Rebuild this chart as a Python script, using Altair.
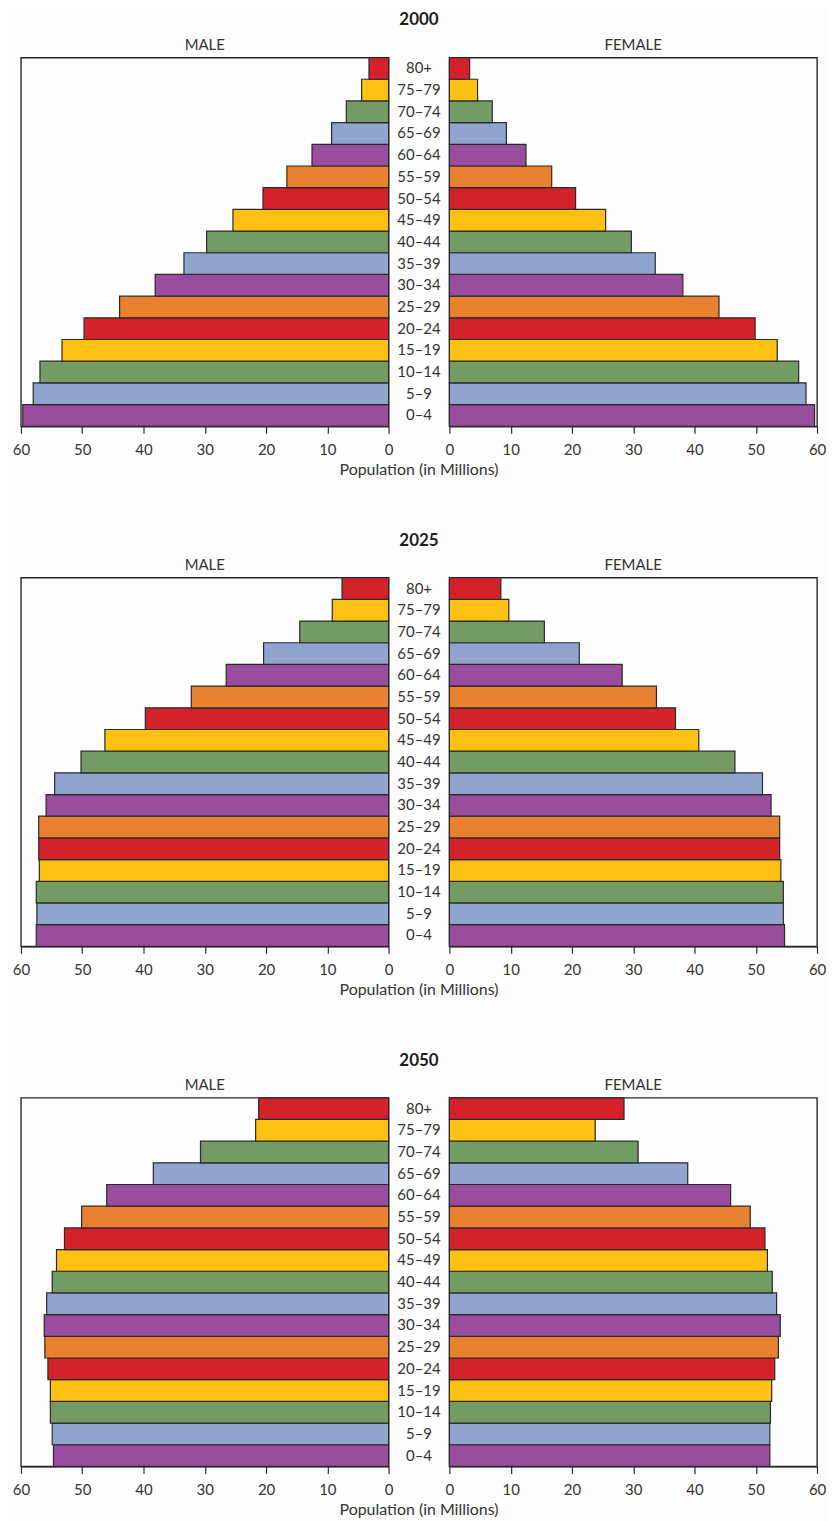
import altair as alt
import pandas as pd

# ---- data (bottom -> top age groups) ----
ages = ["0–4", "5–9", "10–14", "15–19", "20–24", "25–29", "30–34", "35–39",
        "40–44", "45–49", "50–54", "55–59", "60–64", "65–69", "70–74", "75–79", "80+"]
years = ["2000", "2025", "2050"]

male_2000 = [59.7, 58.0, 56.9, 53.3, 49.7, 43.9, 38.1, 33.4, 29.7, 25.4, 20.5, 16.6, 12.5, 9.3, 6.9, 4.4, 3.2]
female_2000 = [59.6, 58.2, 57.0, 53.5, 49.9, 44.0, 38.1, 33.6, 29.7, 25.5, 20.6, 16.7, 12.5, 9.3, 7.0, 4.6, 3.3]
male_2025 = [57.5, 57.4, 57.5, 57.0, 57.1, 57.1, 55.9, 54.5, 50.2, 46.3, 39.7, 32.2, 26.5, 20.4, 14.5, 9.2, 7.6]
female_2025 = [54.7, 54.5, 54.5, 54.1, 53.9, 53.9, 52.5, 51.1, 46.6, 40.7, 36.9, 33.8, 28.2, 21.2, 15.5, 9.7, 8.4]
male_2050 = [54.7, 54.9, 55.2, 55.2, 55.6, 56.1, 56.2, 55.8, 54.9, 54.2, 52.9, 50.1, 46.0, 38.4, 30.7, 21.7, 21.2]
female_2050 = [52.3, 52.3, 52.4, 52.6, 53.1, 53.7, 54.0, 53.4, 52.7, 51.9, 51.5, 49.1, 45.9, 38.9, 30.8, 23.8, 28.5]

male = {"2000": male_2000, "2025": male_2025, "2050": male_2050}
female = {"2000": female_2000, "2025": female_2025, "2050": female_2050}

age_colors = ["#9a4c9f", "#8fa5cf", "#739b63", "#fcc113", "#d3222a", "#e98130",
              "#9a4c9f", "#8fa5cf", "#739b63", "#fcc113", "#d3222a", "#e98130",
              "#9a4c9f", "#8fa5cf", "#739b63", "#fcc113", "#d3222a"]

tick_values = [0, 10, 20, 30, 40, 50, 60]
x_title = "Population (in Millions)"

FONT = "Lato, Open Sans, sans-serif"
TXT = "#333333"
LINE = "#2a2a2a"
W, H, MID = 369, 370, 61

order_top = ages[::-1]
color_scale = alt.Scale(domain=ages, range=age_colors)
band = alt.Scale(paddingInner=0, paddingOuter=0)


def side(values, label, reverse):
    df = pd.DataFrame({"age": ages, "value": values})
    return alt.Chart(df).mark_bar(stroke=LINE, strokeWidth=1.2).encode(
        x=alt.X("value:Q",
                scale=alt.Scale(domain=[0, 60], reverse=reverse, nice=False),
                axis=alt.Axis(values=tick_values, title=None, grid=False,
                              labelFont=FONT, labelFontSize=15, labelColor=TXT,
                              tickColor=LINE, domainColor=LINE,
                              tickSize=7, domainWidth=1.4, tickWidth=1.2,
                              labelPadding=9, labelFlush=False)),
        y=alt.Y("age:N", sort=order_top, scale=band, axis=None),
        color=alt.Color("age:N", scale=color_scale, legend=None),
    ).properties(
        width=W, height=H,
        title=alt.TitleParams(label, font=FONT, fontSize=15, fontWeight="normal",
                              color=TXT, anchor="middle", offset=4),
    )


def middle():
    lab = alt.Chart(pd.DataFrame({"age": ages})).mark_text(
        font=FONT, fontSize=15, color=TXT
    ).encode(
        y=alt.Y("age:N", sort=order_top, scale=band, axis=None),
        text="age:N",
        x=alt.value(MID / 2),
    )
    ttl = alt.Chart(pd.DataFrame({"t": [x_title]})).mark_text(
        font=FONT, fontSize=16, color=TXT
    ).encode(text="t:N", x=alt.value(MID / 2), y=alt.value(H + 44))
    return alt.layer(lab, ttl).properties(
        width=MID, height=H, view=alt.ViewBackground(strokeWidth=0)
    )


rows = []
for yr in years:
    row = alt.hconcat(
        side(male[yr], "MALE", True),
        middle(),
        side(female[yr], "FEMALE", False),
        spacing=0, bounds="flush",
    ).properties(
        title=alt.TitleParams(yr, font=FONT, fontSize=17, fontWeight="bold",
                              color="#1e1e1e", anchor="middle", offset=8)
    )
    rows.append(row)

chart = alt.vconcat(*rows, spacing=53).properties(
    padding={"left": 3, "top": 0, "right": 0, "bottom": 0},
    background="#fdfdfd",
).configure_view(stroke=LINE, strokeWidth=1.4)

chart.save("out.html", embed_options={"renderer": "svg", "actions": False})
